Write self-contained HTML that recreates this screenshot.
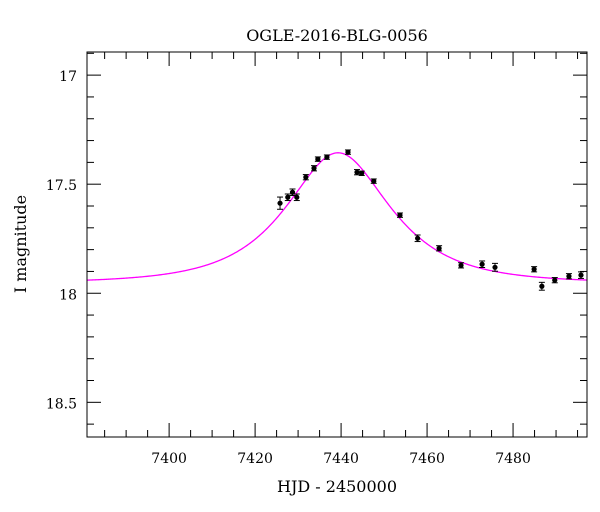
<!DOCTYPE html>
<html><head><meta charset="utf-8"><style>
body{margin:0;background:#fff;}
svg{display:block;font-family:"DejaVu Serif","Liberation Serif",serif;}
</style></head><body>
<svg id="chart" width="600" height="512" viewBox="0 0 600 512">
<text x="337" y="41" text-anchor="middle" font-size="16">OGLE-2016-BLG-0056</text>
<g id="axes"></g>
<g id="model"></g>
<g id="points"></g>
<rect x="87" y="52" width="500" height="385" fill="none" stroke="#000" stroke-width="1"/>
<text x="337" y="492" text-anchor="middle" font-size="16">HJD - 2450000</text>
<text transform="translate(26,244) rotate(-90)" text-anchor="middle" font-size="16">I magnitude</text>
</svg>
<script>
const hjd=[7425.8,7427.6,7428.7,7429.7,7431.8,7433.7,7434.6,7436.7,7441.6,7443.7,7444.8,7447.6,7453.7,7457.8,7462.8,7467.9,7472.8,7475.8,7484.9,7486.7,7489.7,7493.0,7495.8];
const mag=[17.587,17.560,17.537,17.560,17.468,17.427,17.385,17.376,17.353,17.445,17.450,17.486,17.642,17.748,17.794,17.872,17.867,17.881,17.890,17.968,17.940,17.922,17.917];
const err=[0.028,0.015,0.015,0.015,0.012,0.012,0.010,0.010,0.010,0.012,0.010,0.010,0.010,0.015,0.012,0.012,0.015,0.018,0.012,0.018,0.012,0.012,0.015];
const modelParams=[7439.3,0.67,18,17.953]; // t0,u0,tE,baseline
const xTicks=[7400,7420,7440,7460,7480];
const yTicks=[17,17.5,18,18.5];
const xMin=7380.9,xMax=7497.2,yMin=16.894,yMax=18.659;
const L=87,R=587,T=52,B=437;
const NS='http://www.w3.org/2000/svg';
const X=v=>L+(v-xMin)/(xMax-xMin)*(R-L);
const Y=v=>T+(v-yMin)/(yMax-yMin)*(B-T);
function mk(tag,attrs,parent){const e=document.createElementNS(NS,tag);for(const k in attrs)e.setAttribute(k,attrs[k]);parent.appendChild(e);return e;}
const ax=document.getElementById('axes');
for(let v=7385;v<=xMax;v+=5){
 const major=xTicks.includes(v);const len=major?14:7;const x=X(v);
 const t1=mk('line',{x1:x,x2:x,y1:B,y2:B-len,stroke:'#000','stroke-width':1},ax);
 
 
 const t2=mk('line',{x1:x,x2:x,y1:T,y2:T+len,stroke:'#000','stroke-width':1},ax);
 
 
}
xTicks.forEach(v=>{const t=mk('text',{x:X(v),y:B+26,'text-anchor':'middle','font-size':14},ax);t.textContent=v;
 
 });
for(let i=0;i<=17;i++){const v=16.9+i*0.1;if(v>yMax)break;
 const major=yTicks.some(t=>Math.abs(t-v)<1e-6);const len=major?14:7;const y=Y(v);
 const t1=mk('line',{x1:L,x2:L+len,y1:y,y2:y,stroke:'#000','stroke-width':1},ax);
 
 
 const t2=mk('line',{x1:R,x2:R-len,y1:y,y2:y,stroke:'#000','stroke-width':1},ax);
 
 
}
yTicks.forEach(v=>{const t=mk('text',{x:L-10,y:Y(v)+6,'text-anchor':'end','font-size':14},ax);t.textContent=v;
 
 });
const [t0,u0,tE,I0]=modelParams;let d='';
for(let t=xMin;t<=xMax;t+=0.25){const tau=(t-t0)/tE;const u=Math.sqrt(u0*u0+tau*tau);
 const A=(u*u+2)/(u*Math.sqrt(u*u+4));const m=I0-2.5*Math.log10(A);
 d+=(d?'L':'M')+X(t).toFixed(2)+','+Y(m).toFixed(2);}
const mp=mk('path',{d:d,fill:'none',stroke:'#ff00ff','stroke-width':1.3},document.getElementById('model'));


const pg=document.getElementById('points');
hjd.forEach((t,i)=>{const x=X(t),y=Y(mag[i]);const y1=Y(mag[i]-err[i]),y2=Y(mag[i]+err[i]);
 const g=mk('g',{},pg);
 
 
 mk('line',{x1:x,x2:x,y1:y1,y2:y2,stroke:'#000','stroke-width':1},g);
 mk('line',{x1:x-3,x2:x+3,y1:y1,y2:y1,stroke:'#000','stroke-width':1},g);
 mk('line',{x1:x-3,x2:x+3,y1:y2,y2:y2,stroke:'#000','stroke-width':1},g);
 mk('circle',{cx:x,cy:y,r:2.6,fill:'#000'},g);
});
</script>
</body></html>
